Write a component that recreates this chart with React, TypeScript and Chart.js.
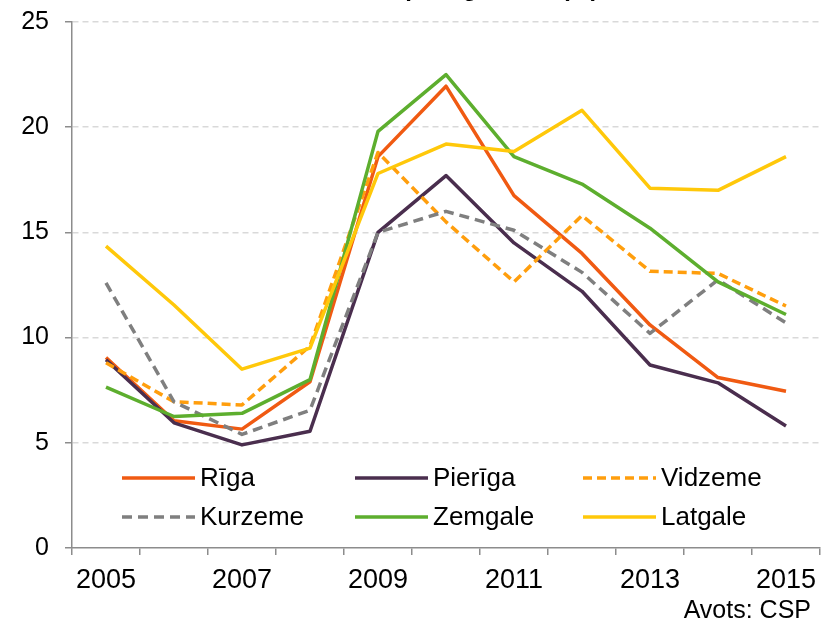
import React, { useEffect, useRef } from 'react';
import { Chart, registerables } from 'chart.js';

Chart.register(...registerables);

const years = ['2005', '2006', '2007', '2008', '2009', '2010', '2011', '2012', '2013', '2014', '2015'];
const shownYearLabels = ['2005', '2007', '2009', '2011', '2013', '2015'];

const riga = [9.05, 6.05, 5.65, 7.9, 18.6, 21.95, 16.75, 14.0, 10.6, 8.1, 7.45];
const pieriga = [8.95, 5.95, 4.9, 5.55, 15.0, 17.7, 14.5, 12.2, 8.7, 7.85, 5.8];
const vidzeme = [8.8, 6.95, 6.8, 9.6, 18.8, 15.5, 12.65, 15.8, 13.15, 13.05, 11.5];
const kurzeme = [12.6, 6.95, 5.4, 6.55, 15.0, 16.0, 15.1, 13.1, 10.2, 12.75, 10.7];
const zemgale = [7.65, 6.25, 6.4, 8.0, 19.8, 22.5, 18.6, 17.3, 15.2, 12.65, 11.1];
const latgale = [14.35, 11.55, 8.5, 9.5, 17.8, 19.2, 18.85, 20.8, 17.1, 17.0, 18.6];

const seriesNames = ['Rīga', 'Pierīga', 'Vidzeme', 'Kurzeme', 'Zemgale', 'Latgale'];
const seriesColors = ['#F05A12', '#4A2E4E', '#FF9E0D', '#7F7F7F', '#5DAE2E', '#FFC80A'];
const seriesDash: number[][] = [[], [], [9, 5], [10, 6], [], []];

const yMin = 0;
const yMax = 25;
const yStep = 5;

const titleText = 'Bezdarba līmenis pa reģioniem (%)';
const sourceText = 'Avots: CSP';

const FONT = '"Liberation Sans", Arial, sans-serif';

const legendPlugin = {
  id: 'customLegend',
  afterDraw(chart: any) {
    const ctx = chart.ctx;
    const colX = [122, 355, 583];
    const rowY = [478, 517];
    const sampleLen = 73;
    ctx.save();
    chart.data.datasets.forEach((ds: any, i: number) => {
      const col = i % 3;
      const row = Math.floor(i / 3);
      const x = colX[col];
      const y = rowY[row];
      ctx.beginPath();
      ctx.lineWidth = 3.5;
      ctx.strokeStyle = ds.borderColor;
      ctx.setLineDash(ds.borderDash || []);
      ctx.lineCap = 'butt';
      ctx.moveTo(x, y);
      ctx.lineTo(x + sampleLen, y);
      ctx.stroke();
      ctx.setLineDash([]);
      ctx.fillStyle = '#000';
      ctx.font = `26px ${FONT}`;
      ctx.textAlign = 'left';
      ctx.textBaseline = 'middle';
      ctx.fillText(ds.label, x + sampleLen + 5, y + 1);
    });
    // source note
    ctx.font = `25px ${FONT}`;
    ctx.textAlign = 'right';
    ctx.textBaseline = 'middle';
    ctx.fillStyle = '#000';
    ctx.fillText(sourceText, 811, 611);
    // title (cut off at the top edge in the reference)
    ctx.font = `bold 24px ${FONT}`;
    ctx.textAlign = 'center';
    ctx.textBaseline = 'alphabetic';
    ctx.fillText(titleText, 400, -4);
    ctx.restore();
  },
};

export default function App() {
  const canvasRef = useRef<HTMLCanvasElement | null>(null);

  useEffect(() => {
    document.body.style.margin = '0';
    const canvas = canvasRef.current;
    if (!canvas) return;
    const dataArrays = [riga, pieriga, vidzeme, kurzeme, zemgale, latgale];
    const chart = new Chart(canvas, {
      type: 'line',
      data: {
        labels: years,
        datasets: dataArrays.map((arr, i) => ({
          label: seriesNames[i],
          data: arr,
          borderColor: seriesColors[i],
          backgroundColor: seriesColors[i],
          borderWidth: 3.5,
          borderDash: seriesDash[i],
          pointRadius: 0,
          tension: 0,
          fill: false,
          borderJoinStyle: 'round',
          borderCapStyle: 'butt',
          order: dataArrays.length - i,
        })),
      },
      options: {
        responsive: false,
        animation: false,
        devicePixelRatio: 1,
        layout: { padding: { top: 22, right: 3, left: 0, bottom: 0 } },
        plugins: {
          legend: { display: false },
          title: { display: false },
          tooltip: { enabled: false },
        },
        scales: {
          x: {
            type: 'category',
            offset: true,
            grid: {
              offset: true,
              drawOnChartArea: false,
              drawTicks: true,
              tickLength: 7,
              color: '#8c8c8c',
              tickColor: '#8c8c8c',
              lineWidth: 1.5,
            },
            border: { color: '#8c8c8c', width: 1.5 },
            ticks: {
              autoSkip: false,
              maxRotation: 0,
              minRotation: 0,
              color: '#000',
              padding: 9,
              font: { family: FONT, size: 27 },
              callback: (_v: any, i: number) => (shownYearLabels.includes(years[i]) ? years[i] : ''),
            },
            afterFit: (s: any) => {
              s.height = 80;
              s.paddingLeft = 0;
              s.paddingRight = 0;
            },
          },
          y: {
            min: yMin,
            max: yMax,
            ticks: {
              stepSize: yStep,
              color: '#000',
              padding: 16,
              font: { family: FONT, size: 25 },
            },
            grid: {
              color: (c: any) => (c.tick && c.tick.value === 0 ? 'rgba(0,0,0,0)' : '#d9d9d9'),
              tickColor: '#8c8c8c',
              tickLength: 7,
              tickBorderDash: [],
              lineWidth: 1.5,
            },
            border: { color: '#8c8c8c', width: 1.5, dash: [6, 4] },
            afterFit: (s: any) => {
              s.width = 72;
              s.paddingTop = 0;
              s.paddingBottom = 0;
            },
          },
        },
      },
      plugins: [legendPlugin],
    } as any);
    return () => chart.destroy();
  }, []);

  return (
    <div style={{ width: 823, height: 628, position: 'relative', background: '#fff' }}>
      <canvas ref={canvasRef} width={823} height={628} style={{ display: 'block' }} />
    </div>
  );
}
